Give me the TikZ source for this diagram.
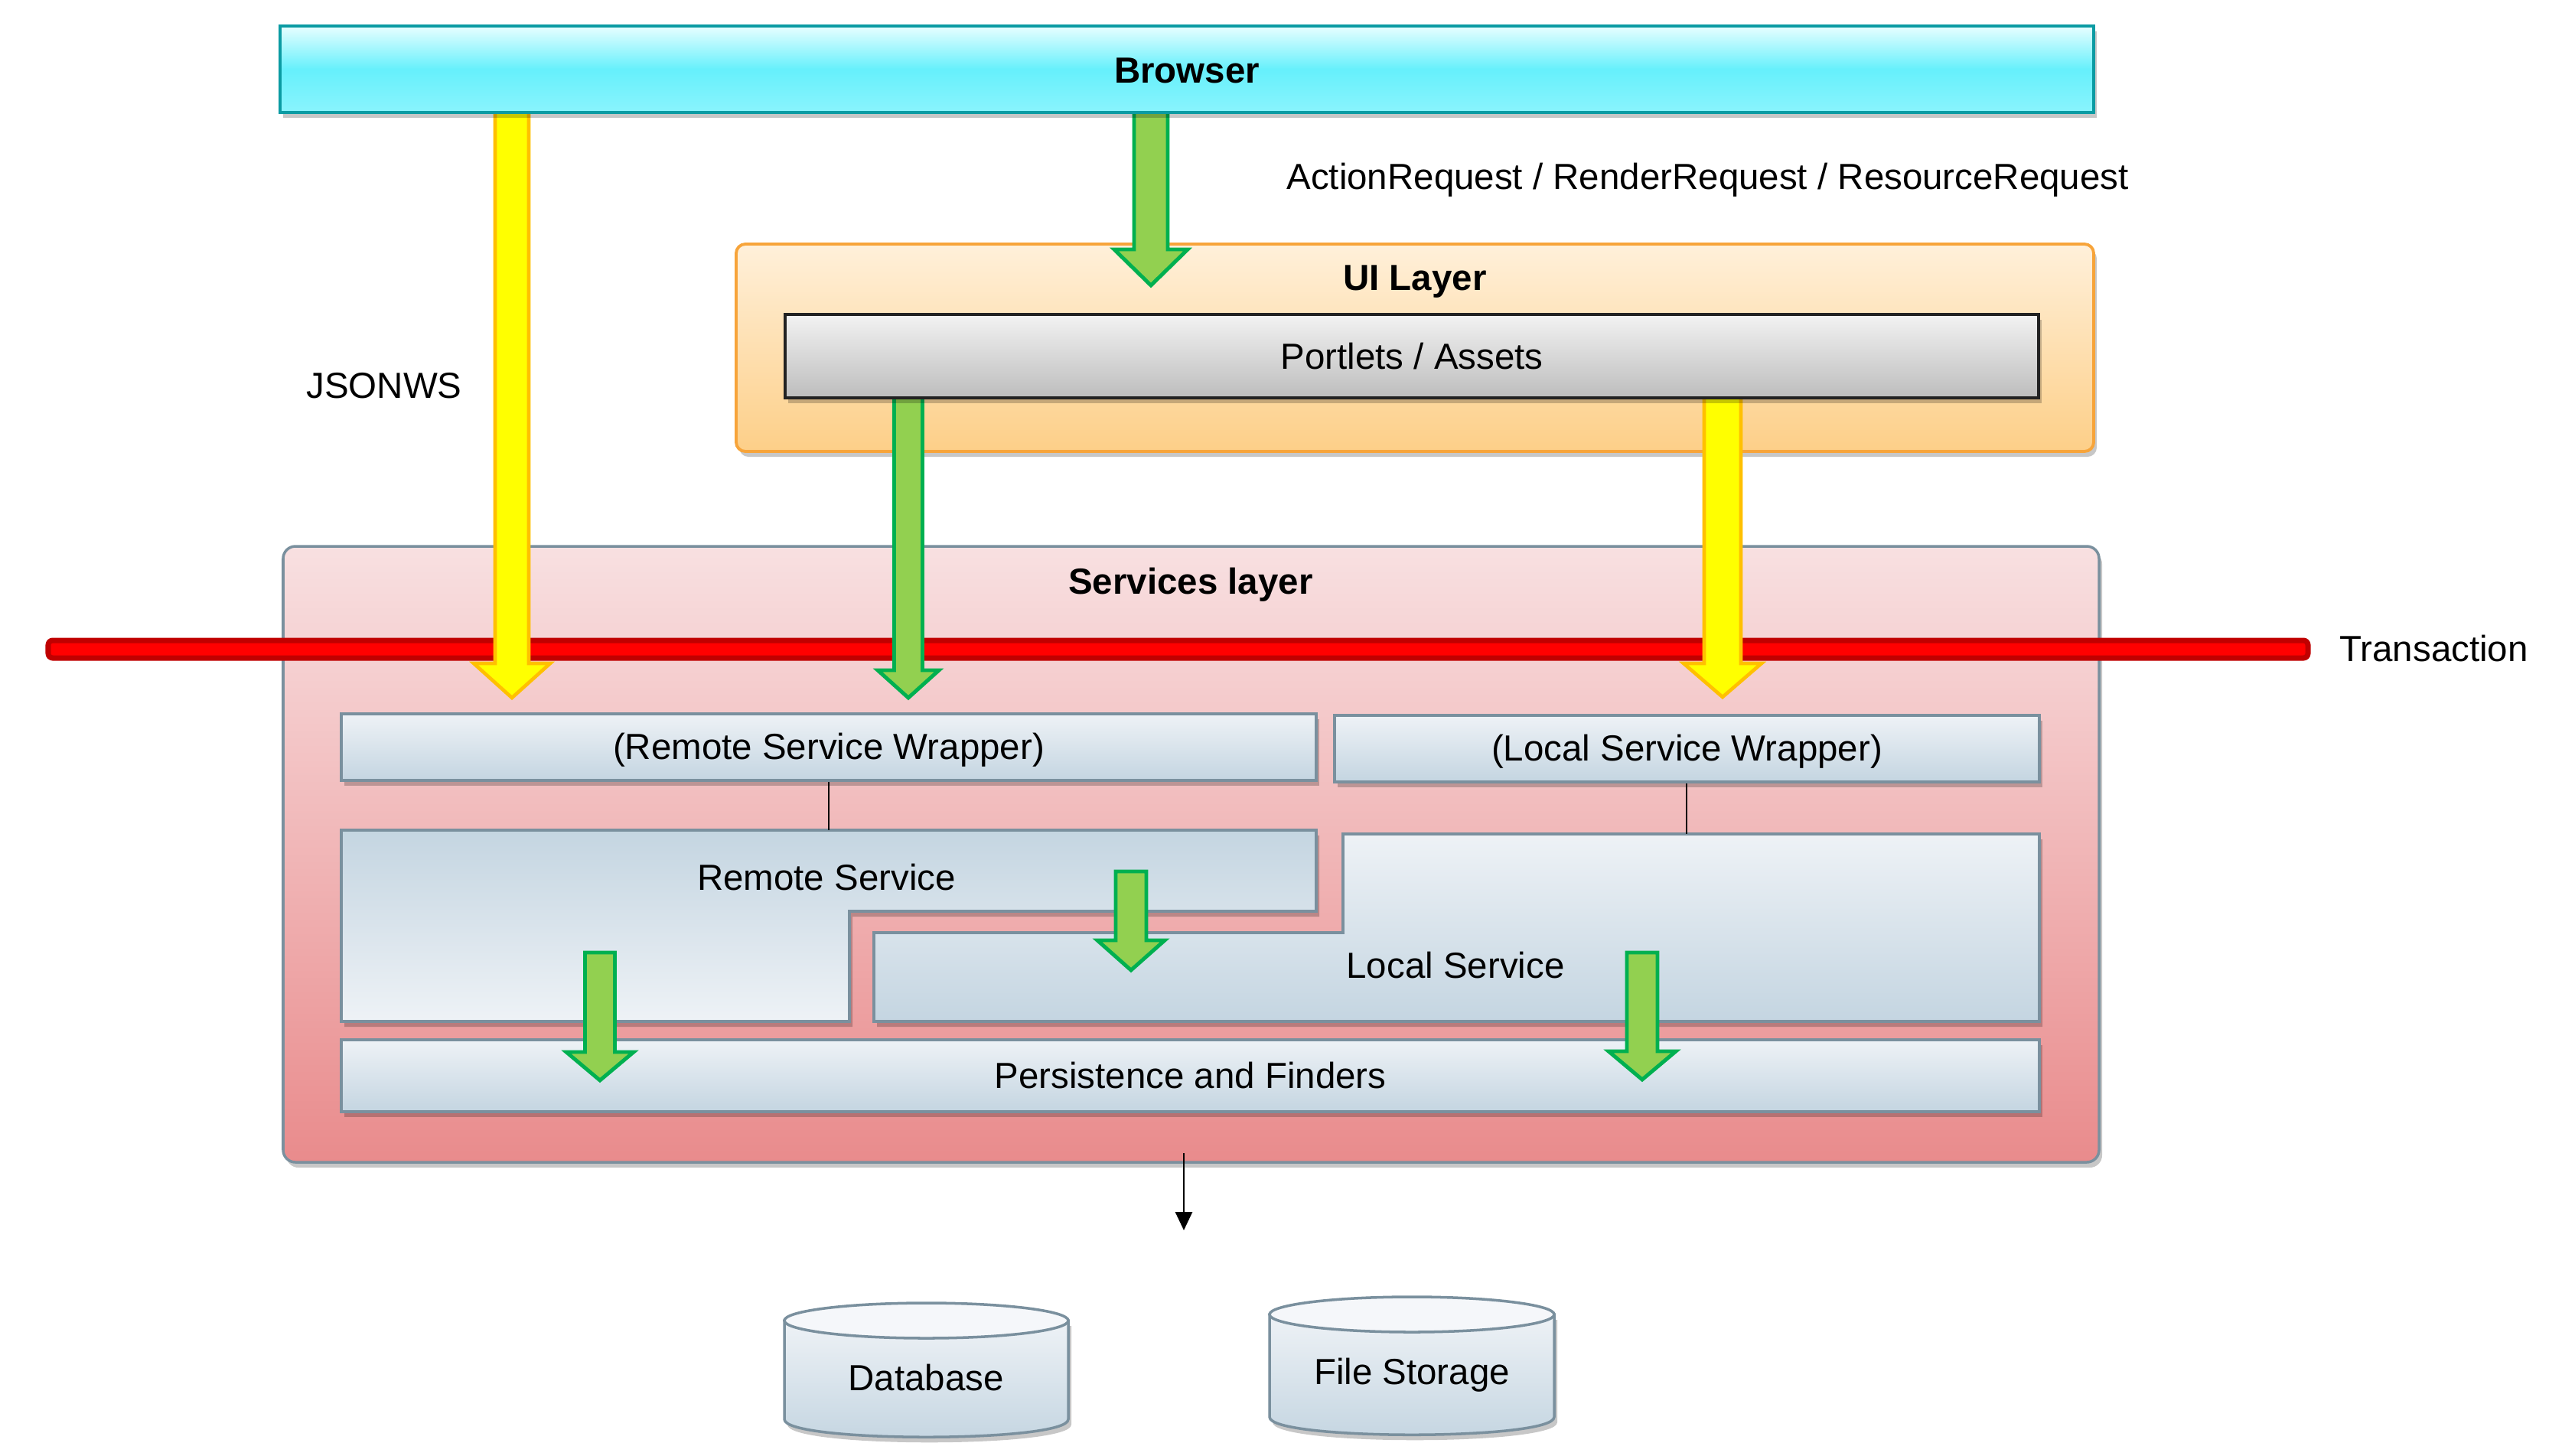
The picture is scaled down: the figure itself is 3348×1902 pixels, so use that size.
\documentclass[tikz,border=0pt]{standalone}
\usepackage{fontspec}
\setmainfont{Liberation Sans}
\usetikzlibrary{fit,shadows,arrows.meta,calc}
\definecolor{browsertop}{HTML}{E8FEFF}
\definecolor{browsermid}{HTML}{66F0FC}
\definecolor{browserbot}{HTML}{8AF4FD}
\definecolor{browserborder}{HTML}{0B9BA3}
\definecolor{uitop}{HTML}{FFF0DA}
\definecolor{uibot}{HTML}{FDCF88}
\definecolor{uiborder}{HTML}{F7A43A}
\definecolor{porttop}{HTML}{F2F2F2}
\definecolor{portbot}{HTML}{BDBDBD}
\definecolor{portborder}{HTML}{222222}
\definecolor{svctop}{HTML}{F8E0E1}
\definecolor{svcbot}{HTML}{E98B8C}
\definecolor{grayblue}{HTML}{7A909E}
\definecolor{bluetop}{HTML}{EEF2F6}
\definecolor{bluebot}{HTML}{C4D5E1}
\definecolor{redfill}{HTML}{FF0000}
\definecolor{redborder}{HTML}{C00000}
\definecolor{yellowfill}{HTML}{FFFF00}
\definecolor{yelloworange}{HTML}{FFC000}
\definecolor{greenfill}{HTML}{92D050}
\definecolor{greenborder}{HTML}{00B050}
\newcommand\blockarrow[6]{%
  \draw[#1] ($(#2)+(-#4,0)$) -- ($(#3)+(-#4,-#6)$) -- ($(#3)+(-#5,-#6)$) -- (#3)
    -- ($(#3)+(#5,-#6)$) -- ($(#3)+(#4,-#6)$) -- ($(#2)+(#4,0)$) -- cycle;}
\tikzset{
  every node/.style={font=\fontsize{13.5}{16}\selectfont, text=black},
  boldtxt/.style={font=\fontsize{13.5}{16}\selectfont\bfseries},
  softshadow/.style={drop shadow={shadow xshift=0.04cm, shadow yshift=-0.07cm, opacity=0.22, fill=black}},
  browserbox/.style={draw=browserborder, line width=1.1pt, top color=browsertop, bottom color=browserbot, middle color=browsermid, inner sep=0pt, softshadow},
  uibox/.style={draw=uiborder, line width=1.1pt, top color=uitop, bottom color=uibot, rounded corners=0.12cm, inner sep=0pt, softshadow},
  portbox/.style={draw=portborder, line width=1.2pt, top color=porttop, bottom color=portbot, inner sep=0pt, softshadow},
  svcbox/.style={draw=grayblue, line width=1pt, top color=svctop, bottom color=svcbot, rounded corners=0.16cm, inner sep=0pt, softshadow},
  bluebox/.style={draw=grayblue, line width=1pt, top color=bluetop, bottom color=bluebot, inner sep=0pt, softshadow},
  blueboxrev/.style={draw=grayblue, line width=1pt, top color=bluebot, bottom color=bluetop, inner sep=0pt, softshadow},
  redbar/.style={draw=redborder, fill=redfill, line width=2pt, rounded corners=0.06cm, inner sep=0pt},
  yarrow/.style={fill=yellowfill, draw=yelloworange, line width=1.3pt, line join=miter},
  garrow/.style={fill=greenfill, draw=greenborder, line width=1.4pt, line join=miter},
  thinline/.style={draw=black, line width=0.7pt},
  outarrow/.style={draw=black, line width=0.8pt, -{Triangle[length=0.24cm,width=0.22cm]}},
  cylbody/.style={draw=grayblue, line width=1pt, top color=bluetop, bottom color=bluebot, softshadow},
  cyltop/.style={draw=grayblue, line width=1pt, fill=bluetop!60!white},
}
\begin{document}
\begin{tikzpicture}[x=0.01cm, y=-0.01cm]
\useasboundingbox (0,0) rectangle (3348,1902);

% Services layer
\node[svcbox, fit={(370,714)(2743,1519)}] (services) {};
\node[boldtxt] (svctitle) at (1556,764) {Services layer};
\node[redbar, fit={(63,837)(3016,860)}] (txbar) {};
\node[anchor=west] (txlabel) at (3045,848) {Transaction};

% Inner boxes
\node[bluebox, fit={(446,933)(1720,1020)}] (rsw) {};
\node (rswtext) at ([yshift=-0.04cm]rsw.center) {(Remote Service Wrapper)};
\node[bluebox, fit={(1744,935)(2665,1022)}] (lsw) {};
\node (lswtext) at ([yshift=-0.04cm]lsw.center) {(Local Service Wrapper)};
\draw[blueboxrev] (446,1085) -- (1720,1085) -- (1720,1191) -- (1110,1191) -- (1110,1335) -- (446,1335) -- cycle;
\draw[bluebox] (1755,1090) -- (2665,1090) -- (2665,1335) -- (1142,1335) -- (1142,1219) -- (1755,1219) -- cycle;
\node (rs) at (1080,1147) {Remote Service};
\node (ls) at (1902,1262) {Local Service};
\node[bluebox, fit={(446,1359)(2665,1453)}] (pf) {};
\node (pftext) at (pf.center) {Persistence and Finders};
\coordinate (rstop) at (1083,1085);
\coordinate (lstop) at (2204,1090);
\draw[thinline] (rsw.south -| rstop) -- (rstop);
\draw[thinline] (lsw.south -| lstop) -- (lstop);

% UI layer
\node[uibox, fit={(962,319)(2736,590)}] (ui) {};
\node[boldtxt] (uititle) at (1849,368) {UI Layer};

% arrows from browser and portlets
\coordinate (a1s) at (669,140);  \coordinate (a1t) at (669,912);
\coordinate (a2s) at (1504,140); \coordinate (a2t) at (1504,373);
\coordinate (a3s) at (1187,510); \coordinate (a3t) at (1187,912);
\coordinate (a4s) at (2251,510); \coordinate (a4t) at (2251,911);
\blockarrow{yarrow}{a1s}{a1t}{22}{50}{45}
\blockarrow{garrow}{a2s}{a2t}{22}{48}{47}
\blockarrow{garrow}{a3s}{a3t}{18.5}{40}{36}
\blockarrow{yarrow}{a4s}{a4t}{24}{51}{44}

% Browser and portlets
\node[browserbox, fit={(366,34)(2736,147)}] (browser) {};
\node[boldtxt] (browsertext) at ([yshift=-0.02cm]browser.center) {Browser};
\node[portbox, fit={(1026,411)(2664,520)}] (portlets) {};
\node (portletstext) at (portlets.center) {Portlets / Assets};

\node[anchor=west] (reqlabel) at (1669,235) {ActionRequest / RenderRequest / ResourceRequest};
\node (jsonws) at (502,504) {JSONWS};

% inner arrows
\coordinate (a5s) at (784,1245);  \coordinate (a5t) at (784,1412);
\coordinate (a6s) at (1478,1139); \coordinate (a6t) at (1478,1268);
\coordinate (a7s) at (2146,1245); \coordinate (a7t) at (2146,1411);
\blockarrow{garrow}{a5s}{a5t}{19.5}{44}{37}
\blockarrow{garrow}{a6s}{a6t}{20}{44}{39}
\blockarrow{garrow}{a7s}{a7t}{20}{44}{37}

% output arrow
\coordinate (outs) at (1547,1507);
\coordinate (oute) at (1547,1608);
\draw[outarrow] (outs) -- (oute);

% Database cylinder
\draw[cylbody] (1025,1726) -- (1025,1855) .. controls (1025,1886) and (1396,1886) .. (1396,1855) -- (1396,1726) -- cycle;
\draw[cyltop] (1210.5,1726) ellipse [x radius=185.5, y radius=23];
\node (db) at (1210,1800) {Database};

% File storage cylinder
\draw[cylbody] (1659,1718) -- (1659,1852) .. controls (1659,1883) and (2031,1883) .. (2031,1852) -- (2031,1718) -- cycle;
\draw[cyltop] (1845,1718) ellipse [x radius=186, y radius=23];
\node (fs) at (1845,1797) {File Storage};
\end{tikzpicture}
\end{document}
